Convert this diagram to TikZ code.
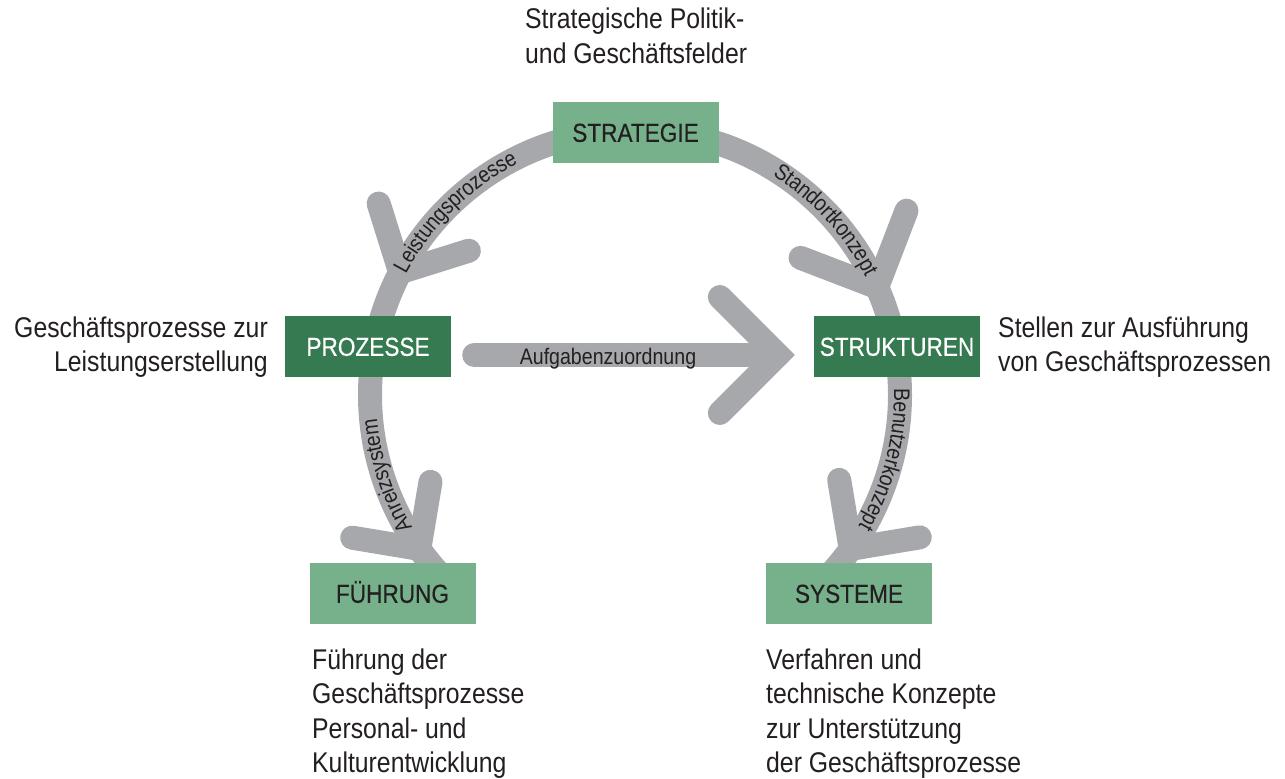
\documentclass[tikz,border=0pt]{standalone}
\usepackage{fontspec}
\setmainfont{Liberation Sans}[FakeStretch=0.87]
\newfontfamily\boxfamily{Liberation Sans}[FakeStretch=0.87,FakeBold=0.4]
\usetikzlibrary{decorations.text,calc,backgrounds}
\definecolor{arcgray}{HTML}{A7A8AB}
\definecolor{lightgreen}{HTML}{76B18C}
\definecolor{darkgreen}{HTML}{367A51}
\definecolor{txt}{HTML}{231F20}
\newcommand{\bodyfnt}{\fontsize{28.5}{34.5}\selectfont}
\newcommand{\lblfnt}{\fontsize{22.5}{27}\selectfont}
\newcommand{\bxfnt}{\boxfamily\fontsize{26}{30}\selectfont}
\begin{document}
\begin{tikzpicture}[x=1pt,y=1pt,
  flow/.style={draw=arcgray, line width=24pt},
  barb/.style={draw=arcgray, line width=24pt, line cap=round, line join=miter},
  box/.style={minimum width=166pt, minimum height=61pt, inner sep=0pt, font=\bxfnt, text height=18.6pt, text depth=0pt},
  lightbox/.style={box, fill=lightgreen, text=txt},
  darkbox/.style={box, fill=darkgreen, text=white},
  body/.style={font=\bodyfnt, text=txt, inner sep=0pt},
  arclabel/.style={decorate, decoration={text along path, text align=center, raise=-6pt}}
]
\useasboundingbox (0,0) rectangle (1285,-779);
\coordinate (C) at (635,-395);
\def\R{265}

% boxes
\node[lightbox] (strategie) at (635.5,-132.5) {STRATEGIE};
\node[darkbox]  (prozesse)  at (368,-346.5) {PROZESSE};
\node[darkbox]  (strukturen) at (897,-346.5) {STRUKTUREN};
\node[lightbox] (fuehrung)  at (392.5,-593.5) {FÜHRUNG};
\node[lightbox] (systeme)   at (849,-593.5) {SYSTEME};

% descriptions (base anchor = baseline of the last line)
\node[body, align=left, anchor=base west] (tdesc) at (525,-63) {Strategische Politik-\\und Geschäftsfelder};
\node[body, align=right, anchor=base east] (ldesc) at (268,-371.5) {Geschäftsprozesse zur\\Leistungserstellung};
\node[body, align=left, anchor=base west] (rdesc) at (998,-371.5) {Stellen zur Ausführung\\von Geschäftsprozessen};
\node[body, align=left, anchor=base west] (fdesc) at (312,-772.5) {Führung der\\Geschäftsprozesse\\Personal- und\\Kulturentwicklung};
\node[body, align=left, anchor=base west] (sdesc) at (766,-772.5) {Verfahren und\\technische Konzepte\\zur Unterstützung\\der Geschäftsprozesse};

\begin{scope}[on background layer]
  \fill[white] (0,0) rectangle (1285,-779);
  % arcs
  \draw[flow] ($(C)+(92:\R)$) arc[start angle=92, end angle=168, radius=\R];
  \draw[flow] ($(C)+(88:\R)$) arc[start angle=88, end angle=12, radius=\R];
  \draw[flow] ($(C)+(172:\R)$) arc[start angle=172, end angle=222, radius=\R];
  \draw[flow] ($(C)+(8:\R)$) arc[start angle=8, end angle=-42, radius=\R];
  % arrow heads
  \coordinate (v1) at ($(C)+(152.4:\R)$);
  \draw[barb] ($(v1)+(107.4:72)$) -- (v1) -- ($(v1)+(17.4:72)$);
  \coordinate (v2) at ($(C)+(24:\R)$);
  \draw[barb] ($(v2)+(69:82)$) -- (v2) -- ($(v2)+(159:82)$);
  \coordinate (v3) at ($(C)+(215.5:\R)$);
  \draw[barb] ($(v3)+(170.5:68)$) -- (v3) -- ($(v3)+(80.5:68)$);
  \coordinate (v4) at ($(C)+(-35.5:\R)$);
  \draw[barb] ($(v4)+(99.5:70)$) -- (v4) -- ($(v4)+(9.5:70)$);
  % middle arrow
  \coordinate (ms) at ($(prozesse.east)+(23,-8.5)$);
  \coordinate (mv) at ($(strukturen.west)+(-36,-8.5)$);
  \draw[flow, line cap=round] (ms) -- (mv);
  \draw[barb] ($(mv)+(135:82)$) -- (mv) -- ($(mv)+(225:82)$);
  \node[font=\lblfnt, text=txt, anchor=base, inner sep=0pt] (mlabel) at (608,-364) {Aufgabenzuordnung};
  % arc labels
  \path[arclabel, decoration={text={|\lblfnt\color{txt}|Leistungsprozesse}}]
    ($(C)+(175:\R)$) arc[start angle=175, end angle=94, radius=\R];
  \path[arclabel, decoration={text={|\lblfnt\color{txt}|Standortkonzept}}]
    ($(C)+(85:\R)$) arc[start angle=85, end angle=0, radius=\R];
  \path[arclabel, decoration={text={|\lblfnt\color{txt}|Anreizsystem}}]
    ($(C)+(235:\R)$) arc[start angle=235, end angle=161, radius=\R];
  \path[arclabel, decoration={text={|\lblfnt\color{txt}|Benutzerkonzept}}]
    ($(C)+(20:\R)$) arc[start angle=20, end angle=-49, radius=\R];
\end{scope}
\end{tikzpicture}
\end{document}
